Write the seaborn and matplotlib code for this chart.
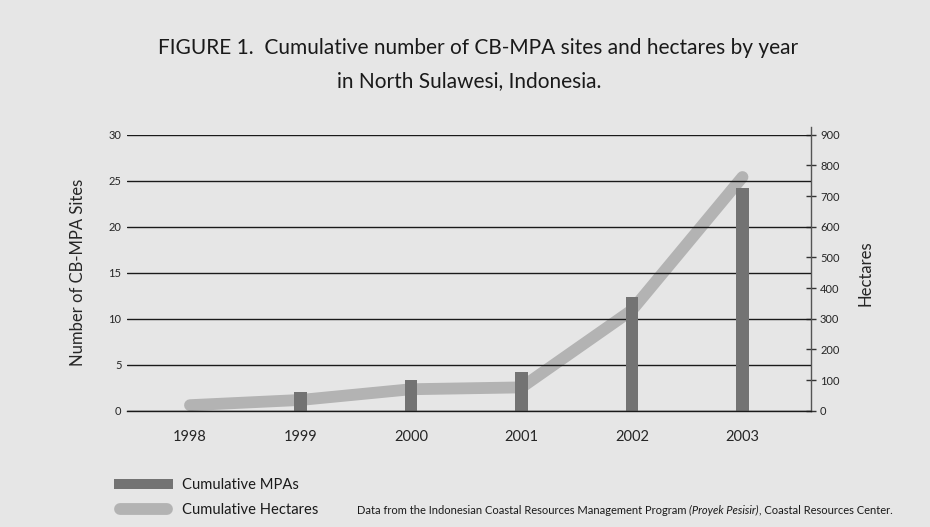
import numpy as np
import pandas as pd
import seaborn as sns
import matplotlib.pyplot as plt
from matplotlib.patches import Patch
from matplotlib.lines import Line2D
from matplotlib.legend_handler import HandlerLine2D

# values
years = [1998, 1999, 2000, 2001, 2002, 2003]
mpa_sites = [0, 2, 3.3, 4.2, 12.4, 24.2]
hectares = [18, 35, 70, 76, 328, 762]

site_ticks = [0, 5, 10, 15, 20, 25, 30]
hectare_ticks = [0, 100, 200, 300, 400, 500, 600, 700, 800, 900]

bg = '#e6e6e6'
bar_color = '#737373'
line_color = '#b3b3b3'
line_w = 8.5

df = pd.DataFrame({'Year': years, 'Sites': mpa_sites, 'Hectares': hectares})


class RoundLineHandler(HandlerLine2D):
    """Legend line kept inside the handle box, caps included."""
    def get_xdata(self, legend, xdescent, ydescent, width, height, fontsize):
        x0 = -xdescent + line_w / 2
        x1 = -xdescent + width - line_w / 2
        return [x0, x1], [x0, x1]


sns.set_theme(style='white')
plt.rcParams['font.family'] = ['Lato', 'DejaVu Sans']
plt.rcParams['text.color'] = '#1a1a1a'

fig = plt.figure(figsize=(9.3, 5.27), dpi=100, facecolor=bg)
ax = fig.add_axes([127 / 930, 1 - 410.7 / 527, (811 - 127) / 930, 276 / 527])
ax2 = ax.twinx()

# hectares line sits behind the bars
sns.lineplot(data=df, x='Year', y='Hectares', ax=ax2, color=line_color,
             linewidth=line_w, solid_capstyle='round', solid_joinstyle='round')
sns.barplot(data=df, x='Year', y='Sites', ax=ax, native_scale=True,
            color=bar_color, width=0.11, saturation=1, linewidth=0)

ax.set_zorder(ax2.get_zorder() + 1)
ax.patch.set_visible(False)
ax2.patch.set_facecolor(bg)

ax.set_xlim(1997.43, 2003.62)
ax.set_ylim(0, 30)
ax2.set_ylim(0, 900)

ax.set_xticks(years)
ax.set_xticklabels([str(y) for y in years])
ax.set_yticks(site_ticks)
ax2.set_yticks(hectare_ticks)

ax.yaxis.grid(True, color='#1a1a1a', linewidth=1.0)
ax.set_axisbelow(True)
ax.xaxis.grid(False)

for s in ['top', 'left', 'right']:
    ax.spines[s].set_visible(False)
ax.spines['bottom'].set_color('#1a1a1a')
ax.spines['bottom'].set_linewidth(1.0)
for s in ['top', 'left', 'bottom']:
    ax2.spines[s].set_visible(False)
ax2.spines['right'].set_color('#555555')
ax2.spines['right'].set_linewidth(1.0)
ax2.spines['right'].set_bounds(0, 925)

ax.tick_params(axis='x', length=0, pad=14, labelsize=10.5)
ax.tick_params(axis='y', length=0, pad=4, labelsize=8)
ax2.tick_params(axis='y', direction='inout', length=7, width=1, color='#333333',
                pad=3, labelsize=8)

ax.set_xlabel('')
ax.set_ylabel('Number of CB-MPA Sites', fontsize=12, labelpad=16)
ax2.set_ylabel('Hectares', fontsize=12, labelpad=13)

fig.text(478 / 930, 1 - 48 / 527, 'FIGURE 1.  Cumulative number of CB-MPA sites and hectares by year',
         ha='center', va='center', fontsize=15)
fig.text(469 / 930, 1 - 81 / 527, 'in North Sulawesi, Indonesia.',
         ha='center', va='center', fontsize=15)

handles = [Patch(facecolor=bar_color, edgecolor='none'),
           Line2D([0], [0], color=line_color, linewidth=line_w, solid_capstyle='round')]
fig.legend(handles, ['Cumulative MPAs', 'Cumulative Hectares'], loc='upper left',
           bbox_to_anchor=(107 / 930, 1 - 471 / 527), frameon=False, fontsize=10.6,
           handlelength=4.0, handletextpad=0.6, labelspacing=0.75, borderpad=0,
           handler_map={Line2D: RoundLineHandler()})

# source note with italic program name
renderer = fig.canvas.get_renderer()
x = 357 / 930
y = 1 - 510 / 527
for s, st in [('Data from the Indonesian Coastal Resources Management Program ', 'normal'),
              ('(Proyek Pesisir)', 'italic'),
              (', Coastal Resources Center.', 'normal')]:
    t = fig.text(x, y, s, style=st, fontsize=8, va='center', ha='left')
    x = t.get_window_extent(renderer).x1 / fig.bbox.width

fig.savefig('out.png', dpi=100, facecolor=bg)
